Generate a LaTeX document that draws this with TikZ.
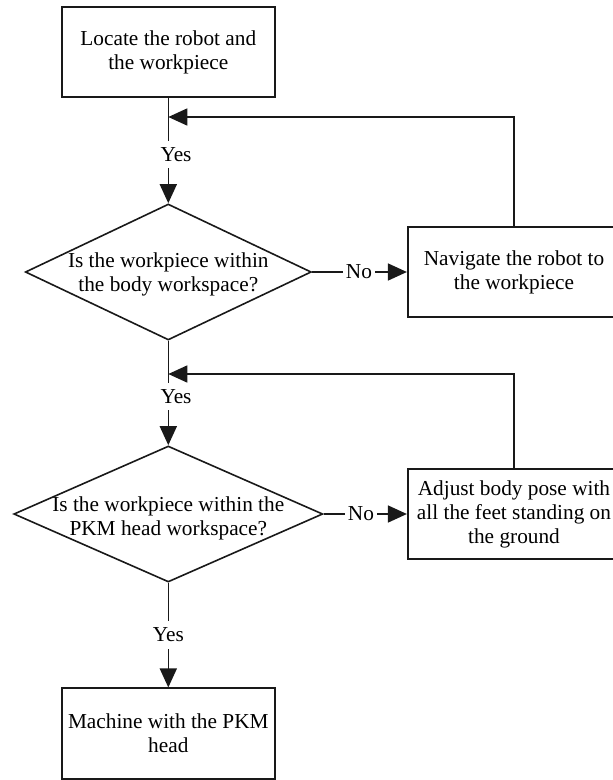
\documentclass[tikz,border=0pt]{standalone}
\usepackage{fontspec}
\setmainfont{Liberation Serif}
\usetikzlibrary{shapes.geometric,arrows.meta}
\tikzset{
  txt/.style={font=\fontsize{21.3pt}{24pt}\selectfont, align=center, inner sep=0pt},
  boxnode/.style={draw=black!90, line width=1.6pt, rectangle, minimum width=213pt, minimum height=90.5pt, inner sep=0pt, txt},
  dia/.style={draw=black!90, line width=1.6pt, diamond, inner sep=0pt},
  conn/.style={draw=black!90, line width=1.6pt},
  arr/.style={conn, -{Triangle[length=19pt,width=17pt]}},
  lbl/.style={txt, fill=white, inner xsep=2pt, inner ysep=6.5pt}
}
\begin{document}
\begin{tikzpicture}[x=1pt,y=-1pt]
\useasboundingbox (0,0) rectangle (613,780);
\clip (0,0) rectangle (613,780);
% boxes
\node[boxnode] (b1) at (168.3,52) {Locate the robot and\\the workpiece};
\node[boxnode, minimum width=212.6pt, minimum height=90pt] (nav) at (514,272) {Navigate the robot to\\the workpiece};
\node[boxnode, minimum width=212.6pt, minimum height=90pt] (adj) at (514,514) {Adjust body pose with\\all the feet standing on\\the ground};
\node[boxnode] (b3) at (168.3,733.5) {Machine with the PKM\\head};
% diamonds
\node[dia, minimum width=286pt, minimum height=136pt] (d1) at (168.3,272) {};
\node[txt] (d1t) at (168.3,274) {Is the workpiece within\\the body workspace?};
\node[dia, minimum width=309pt, minimum height=136pt] (d2) at (168.3,514) {};
\node[txt] (d2t) at (168.3,518) {Is the workpiece within the\\PKM head workspace?};
% junction points
\coordinate (j1) at (168.3,117);
\coordinate (j2) at (168.3,374);
% connectors
\draw[arr] (b1.south) -- (d1.north);
\draw[arr] (nav.north) -- (nav.north |- j1) -- (j1);
\draw[arr] (d1.east) -- (nav.west);
\draw[arr] (d1.south) -- (d2.north);
\draw[arr] (adj.north) -- (adj.north |- j2) -- (j2);
\draw[arr] (d2.east) -- (adj.west);
\draw[arr] (d2.south) -- (b3.north);
% labels
\node[lbl] (y1) at (176,154.5) {Yes};
\node[lbl] (y2) at (176,396.5) {Yes};
\node[lbl] (y3) at (168.3,635) {Yes};
\node[lbl, inner xsep=3pt] (n1) at (359,272) {No};
\node[lbl, inner xsep=3pt] (n2) at (361,514) {No};
\end{tikzpicture}
\end{document}
